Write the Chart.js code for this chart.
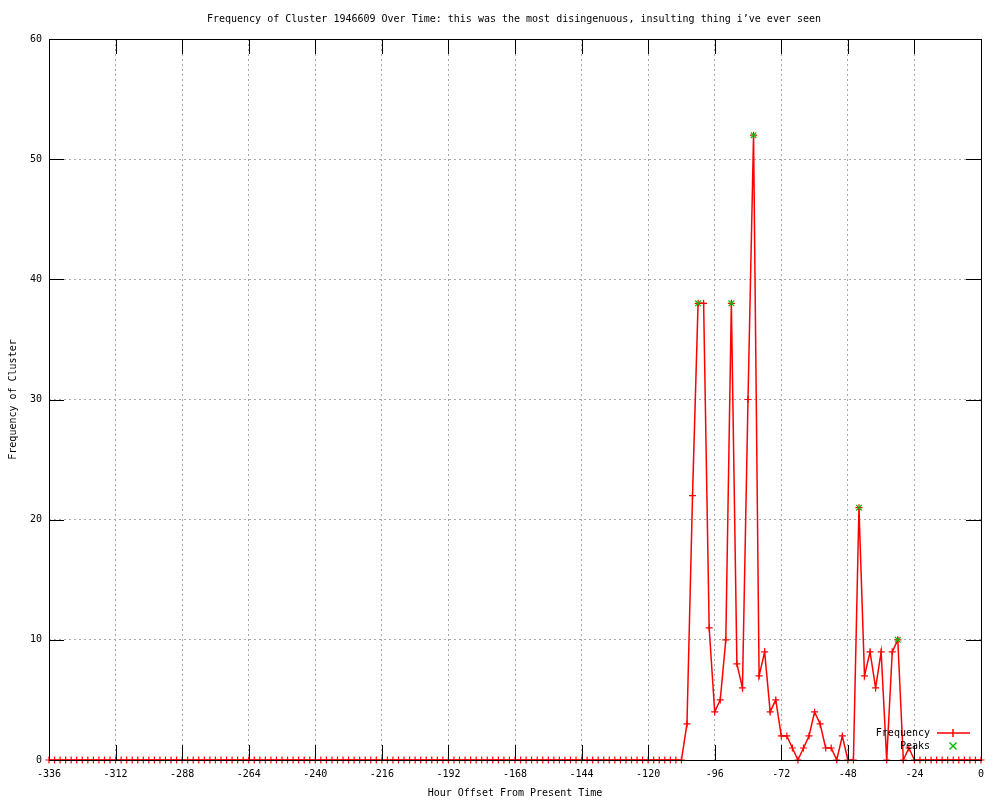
<!DOCTYPE html>
<html>
<head>
<meta charset="utf-8">
<script src="https://cdn.jsdelivr.net/npm/chart.js"></script>
<style>
  body { margin: 0; background: #fff; }
  canvas { display: block; }
</style>
</head>
<body>
<canvas id="clusterChart" width="1000" height="800"></canvas>
<script>
// samples every 2 hours back from now
const hours = [
  -336, -334, -332, -330, -328, -326, -324, -322, -320, -318, -316, -314,
  -312, -310, -308, -306, -304, -302, -300, -298, -296, -294, -292, -290,
  -288, -286, -284, -282, -280, -278, -276, -274, -272, -270, -268, -266,
  -264, -262, -260, -258, -256, -254, -252, -250, -248, -246, -244, -242,
  -240, -238, -236, -234, -232, -230, -228, -226, -224, -222, -220, -218,
  -216, -214, -212, -210, -208, -206, -204, -202, -200, -198, -196, -194,
  -192, -190, -188, -186, -184, -182, -180, -178, -176, -174, -172, -170,
  -168, -166, -164, -162, -160, -158, -156, -154, -152, -150, -148, -146,
  -144, -142, -140, -138, -136, -134, -132, -130, -128, -126, -124, -122,
  -120, -118, -116, -114, -112, -110, -108, -106, -104, -102, -100, -98,
  -96, -94, -92, -90, -88, -86, -84, -82, -80, -78, -76, -74,
  -72, -70, -68, -66, -64, -62, -60, -58, -56, -54, -52, -50,
  -48, -46, -44, -42, -40, -38, -36, -34, -32, -30, -28, -26,
  -24, -22, -20, -18, -16, -14, -12, -10, -8, -6, -4, -2,
  0
];
const frequency = [
  0, 0, 0, 0, 0, 0, 0, 0, 0, 0, 0, 0,
  0, 0, 0, 0, 0, 0, 0, 0, 0, 0, 0, 0,
  0, 0, 0, 0, 0, 0, 0, 0, 0, 0, 0, 0,
  0, 0, 0, 0, 0, 0, 0, 0, 0, 0, 0, 0,
  0, 0, 0, 0, 0, 0, 0, 0, 0, 0, 0, 0,
  0, 0, 0, 0, 0, 0, 0, 0, 0, 0, 0, 0,
  0, 0, 0, 0, 0, 0, 0, 0, 0, 0, 0, 0,
  0, 0, 0, 0, 0, 0, 0, 0, 0, 0, 0, 0,
  0, 0, 0, 0, 0, 0, 0, 0, 0, 0, 0, 0,
  0, 0, 0, 0, 0, 0, 0, 3, 22, 38, 38, 11,
  4, 5, 10, 38, 8, 6, 30, 52, 7, 9, 4, 5,
  2, 2, 1, 0, 1, 2, 4, 3, 1, 1, 0, 2,
  0, 0, 21, 7, 9, 6, 9, 0, 9, 10, 0, 1,
  0, 0, 0, 0, 0, 0, 0, 0, 0, 0, 0, 0,
  0
];
const peakHours = [-102, -90, -82, -44, -30];
const peakValues = [38, 38, 52, 21, 10];

const xTicks = [-336, -312, -288, -264, -240, -216, -192, -168, -144, -120, -96, -72, -48, -24, 0];
const yTicks = [0, 10, 20, 30, 40, 50, 60];

const FONT = '"DejaVu Sans Mono", "Liberation Mono", monospace';
const RED = "#ff0000";
const GREEN = "#00c000";

// gnuplot look: border, inward ticks, title, legend
const gnuplotFrame = {
  id: "gnuplotFrame",
  afterDatasetsDraw(chart) {
    const { ctx, chartArea: a, scales } = chart;
    const t = 15;
    ctx.save();
    ctx.globalAlpha = 1;
    ctx.setLineDash([]);
    ctx.lineWidth = 1;
    ctx.strokeStyle = "#000000";
    ctx.beginPath();
    xTicks.forEach(v => {
      if (v === xTicks[0] || v === xTicks[xTicks.length - 1]) return;
      const px = Math.round(scales.x.getPixelForValue(v)) + 0.5;
      ctx.moveTo(px, a.bottom); ctx.lineTo(px, a.bottom - t);
      ctx.moveTo(px, a.top); ctx.lineTo(px, a.top + t);
    });
    yTicks.forEach(v => {
      if (v === yTicks[0] || v === yTicks[yTicks.length - 1]) return;
      const py = Math.round(scales.y.getPixelForValue(v)) + 0.5;
      ctx.moveTo(a.left, py); ctx.lineTo(a.left + t, py);
      ctx.moveTo(a.right, py); ctx.lineTo(a.right - t, py);
    });
    ctx.stroke();
    ctx.strokeRect(Math.round(a.left) + 0.5, Math.round(a.top) + 0.5,
      Math.round(a.right - a.left), Math.round(a.bottom - a.top));

    // legend samples
    ctx.strokeStyle = RED;
    ctx.lineWidth = 1.5;
    ctx.beginPath();
    ctx.moveTo(937, 733); ctx.lineTo(970, 733);
    ctx.moveTo(953, 729); ctx.lineTo(953, 737);
    ctx.stroke();
    ctx.strokeStyle = GREEN;
    ctx.beginPath();
    ctx.moveTo(949.5, 742.5); ctx.lineTo(956.5, 749.5);
    ctx.moveTo(956.5, 742.5); ctx.lineTo(949.5, 749.5);
    ctx.stroke();
    ctx.restore();
  },
  afterDraw(chart) {
    const { ctx } = chart;
    ctx.save();
    ctx.font = "10px " + FONT;
    ctx.fillStyle = "#000";
    ctx.textBaseline = "middle";
    ctx.textAlign = "center";
    ctx.fillText("Frequency of Cluster 1946609 Over Time: this was the most disingenuous, insulting thing i\u2019ve ever seen", 514, 19);
    ctx.textAlign = "right";
    ctx.fillText("Frequency", 930, 733);
    ctx.fillText("Peaks", 930, 746);
    ctx.restore();
  }
};

document.addEventListener("DOMContentLoaded", () => {
  const ctx = document.getElementById("clusterChart");

  new Chart(ctx, {
    type: "line",
    data: {
      datasets: [{
        label: "Frequency",
        data: hours.map((h, i) => ({ x: h, y: frequency[i] })),
        borderColor: RED,
        borderWidth: 1.5,
        tension: 0,
        fill: false,
        pointStyle: "cross",
        pointRadius: 3.5,
        pointBorderColor: RED,
        pointBorderWidth: 1.2,
        clip: false,
        order: 1
      }, {
        label: "Peaks",
        data: peakHours.map((h, i) => ({ x: h, y: peakValues[i] })),
        showLine: false,
        pointStyle: "crossRot",
        pointRadius: 4,
        pointBorderColor: GREEN,
        pointBorderWidth: 1.2,
        clip: false,
        order: 0
      }]
    },
    options: {
      responsive: false,
      animation: false,
      events: [],
      layout: { padding: { top: 39, right: 19, bottom: 0, left: 0 } },
      plugins: {
        legend: { display: false },
        title: { display: false },
        tooltip: { enabled: false }
      },
      scales: {
        x: {
          type: "linear",
          min: -336,
          max: 0,
          afterBuildTicks: s => { s.ticks = xTicks.map(v => ({ value: v })); },
          afterFit: s => { s.height = 40; },
          ticks: {
            autoSkip: false,
            maxRotation: 0,
            padding: 8,
            color: "#000",
            font: { family: FONT, size: 10 },
            callback: v => String(v)
          },
          grid: { color: "#a8a8a8", drawTicks: false },
          border: { display: false, dash: [2, 3] },
          title: {
            display: true,
            text: "Hour Offset From Present Time",
            color: "#000",
            font: { family: FONT, size: 10 },
            padding: { top: 0, bottom: 1 }
          }
        },
        y: {
          min: 0,
          max: 60,
          afterBuildTicks: s => { s.ticks = yTicks.map(v => ({ value: v })); },
          afterFit: s => { s.width = 49; },
          ticks: {
            padding: 7,
            color: "#000",
            font: { family: FONT, size: 10 },
            callback: v => String(v)
          },
          grid: { color: "#a8a8a8", drawTicks: false },
          border: { display: false, dash: [2, 3] },
          title: {
            display: true,
            text: "Frequency of Cluster",
            color: "#000",
            font: { family: FONT, size: 10 },
            padding: { top: 7, bottom: 0 }
          }
        }
      }
    },
    plugins: [gnuplotFrame]
  });
});
</script>
</body>
</html>
